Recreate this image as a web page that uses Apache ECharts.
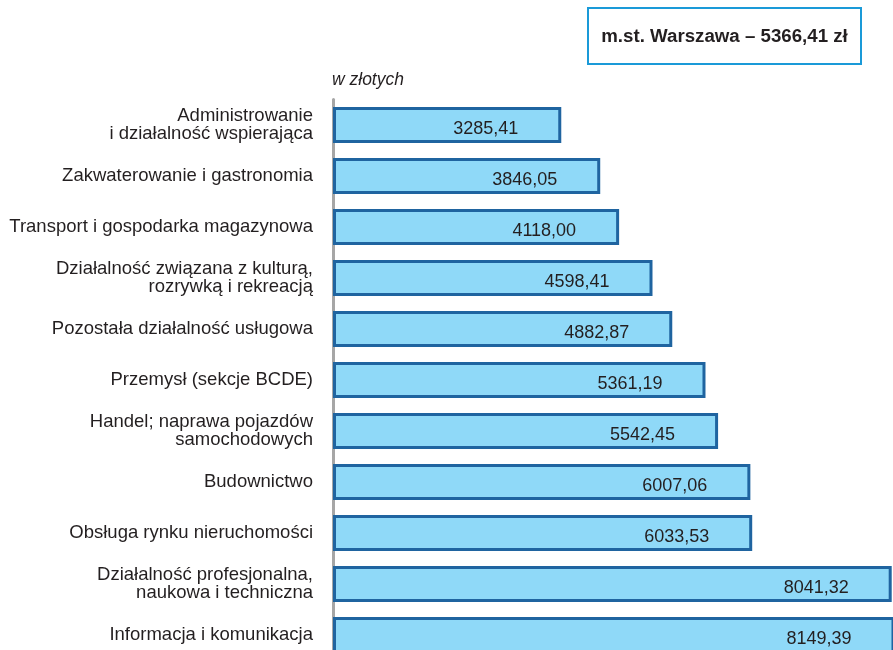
<!DOCTYPE html>
<html>
<head>
<meta charset="utf-8">
<script src="https://cdn.jsdelivr.net/npm/echarts@6/dist/echarts.min.js"></script>
<style>
  html, body { margin: 0; padding: 0; background: #fff; }
  #chart { width: 893px; height: 650px; }
</style>
</head>
<body>
<div id="chart"></div>
<script>
// sectors, top to bottom
const categories = [
    'Administrowanie\ni działalność wspierająca',
    'Zakwaterowanie i gastronomia',
    'Transport i gospodarka magazynowa',
    'Działalność związana z kulturą,\nrozrywką i rekreacją',
    'Pozostała działalność usługowa',
    'Przemysł (sekcje BCDE)',
    'Handel; naprawa pojazdów\nsamochodowych',
    'Budownictwo',
    'Obsługa rynku nieruchomości',
    'Działalność profesjonalna,\nnaukowa i techniczna',
    'Informacja i komunikacja'
];
const salaries = [3285.41, 3846.05, 4118.00, 4598.41, 4882.87, 5361.19, 5542.45, 6007.06, 6033.53, 8041.32, 8149.39];
const unitLabel = 'w złotych';
const cityLabel = 'm.st. Warszawa – 5366,41 zł';

const fontFamily = '"Liberation Sans", Arial, sans-serif';
const textColor = '#231f20';

const chart = echarts.init(document.getElementById('chart'));

function formatPl(v) {
    return v.toFixed(2).replace('.', ',');
}

const options = {
    animation: false,
    grid: {
        left: 333,
        right: 0,
        top: 99.5,
        height: 561,
        outerBoundsMode: 'none'
    },
    xAxis: {
        type: 'value',
        min: 0,
        max: 8060,
        show: false
    },
    yAxis: {
        type: 'category',
        inverse: true,
        data: categories,
        axisLine: {
            show: true,
            lineStyle: { color: '#a6a6a6', width: 3 }
        },
        axisTick: { show: false },
        axisLabel: {
            margin: 20,
            color: textColor,
            fontFamily: fontFamily,
            fontSize: 18.5,
            lineHeight: 18,
            align: 'right'
        }
    },
    series: [{
        type: 'bar',
        data: salaries,
        barWidth: 36,
        itemStyle: {
            color: '#8fd9f8',
            borderColor: '#1f64a0',
            borderWidth: 3
        },
        label: {
            show: true,
            position: 'insideRight',
            distance: 43,
            offset: [0, 4],
            color: textColor,
            fontFamily: fontFamily,
            fontSize: 18,
            formatter: function (p) {
                return formatPl(p.value);
            }
        }
    }],
    graphic: [
        {
            type: 'text',
            left: 332,
            top: 71,
            style: {
                text: unitLabel,
                fill: textColor,
                font: 'italic 17.5px ' + fontFamily
            }
        },
        {
            type: 'rect',
            shape: { x: 588, y: 8, width: 273, height: 56 },
            style: { fill: '#fff', stroke: '#1a9ad8', lineWidth: 2 }
        },
        {
            type: 'text',
            x: 724.5,
            y: 37,
            style: {
                text: cityLabel,
                fill: textColor,
                font: 'bold 18.7px ' + fontFamily,
                align: 'center',
                verticalAlign: 'middle'
            }
        }
    ]
};

chart.setOption(options);
</script>
</body>
</html>
